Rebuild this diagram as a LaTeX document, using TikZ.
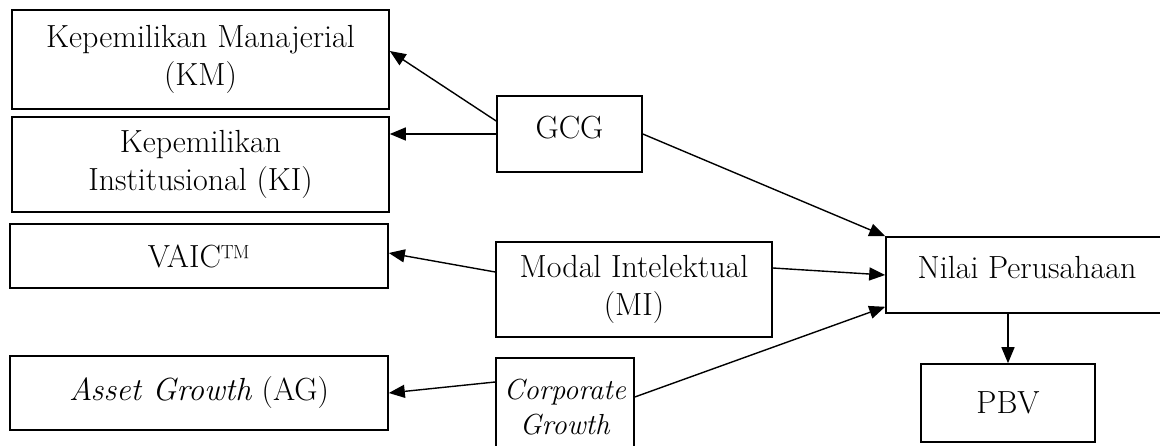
\documentclass[tikz,border=0pt]{standalone}
\usepackage{fontspec}
\usepackage{tikz}
\usetikzlibrary{arrows.meta,positioning}

\begin{document}
\begin{tikzpicture}[x=1pt,y=-1pt,
    box/.style={draw, line width=1.6pt, align=center, inner sep=0pt,
      font=\fontsize{32}{38}\selectfont},
    arr/.style={-{Triangle[length=16pt,width=13pt]}, line width=1.4pt}]
  \useasboundingbox (0,0) rectangle (1160,446);
  \clip (0,0) rectangle (1160,446);
  % indicators
  \node[box, minimum width=377pt, minimum height=99pt] (km) at (200.5,59.5)
    {Kepemilikan Manajerial\\(KM)};
  \node[box, minimum width=377pt, minimum height=95pt] (ki) at (200.5,164.5)
    {Kepemilikan\\Institusional (KI)};
  \node[box, minimum width=378pt, minimum height=64pt] (vaic) at (199,256)
    {VAIC\texttrademark};
  \node[box, minimum width=378pt, minimum height=74pt] (ag) at (199,393)
    {\textit{Asset Growth} (AG)};
  % variables
  \node[box, minimum width=145pt, minimum height=76pt, text depth=14pt] (gcg)
    at (569.5,134) {GCG};
  \node[box, minimum width=276pt, minimum height=95pt] (mi) at (634,289.5)
    {Modal Intelektual\\(MI)};
  \node[box, minimum width=138pt, minimum height=98pt,
    font=\fontsize{29}{35}\selectfont] (cg) at (565,407)
    {\textit{Corporate}\\\textit{Growth}};
  \node[box, minimum width=282pt, minimum height=76pt, text depth=16pt] (np)
    at (1027,275) {Nilai Perusahaan};
  \node[box, minimum width=174pt, minimum height=78pt] (pbv) at (1008,403) {PBV};
  % connectors
  \draw[arr] ([yshift=13pt]gcg.west) -- ([yshift=8.5pt]km.east);
  \draw[arr] (gcg.west) -- (gcg.west -| ki.east);
  \draw[arr] ([yshift=17.5pt]mi.west) -- ([yshift=3pt]vaic.east);
  \draw[arr] ([yshift=25pt]cg.west) -- (ag.east);
  \draw[arr] (gcg.east) -- (np.north west);
  \draw[arr] ([yshift=21.5pt]mi.east) -- (np.west);
  \draw[arr] ([yshift=10pt]cg.east) -- ([yshift=7pt]np.south west);
  \draw[arr] (pbv.north |- np.south) -- (pbv.north);
\end{tikzpicture}
\end{document}
